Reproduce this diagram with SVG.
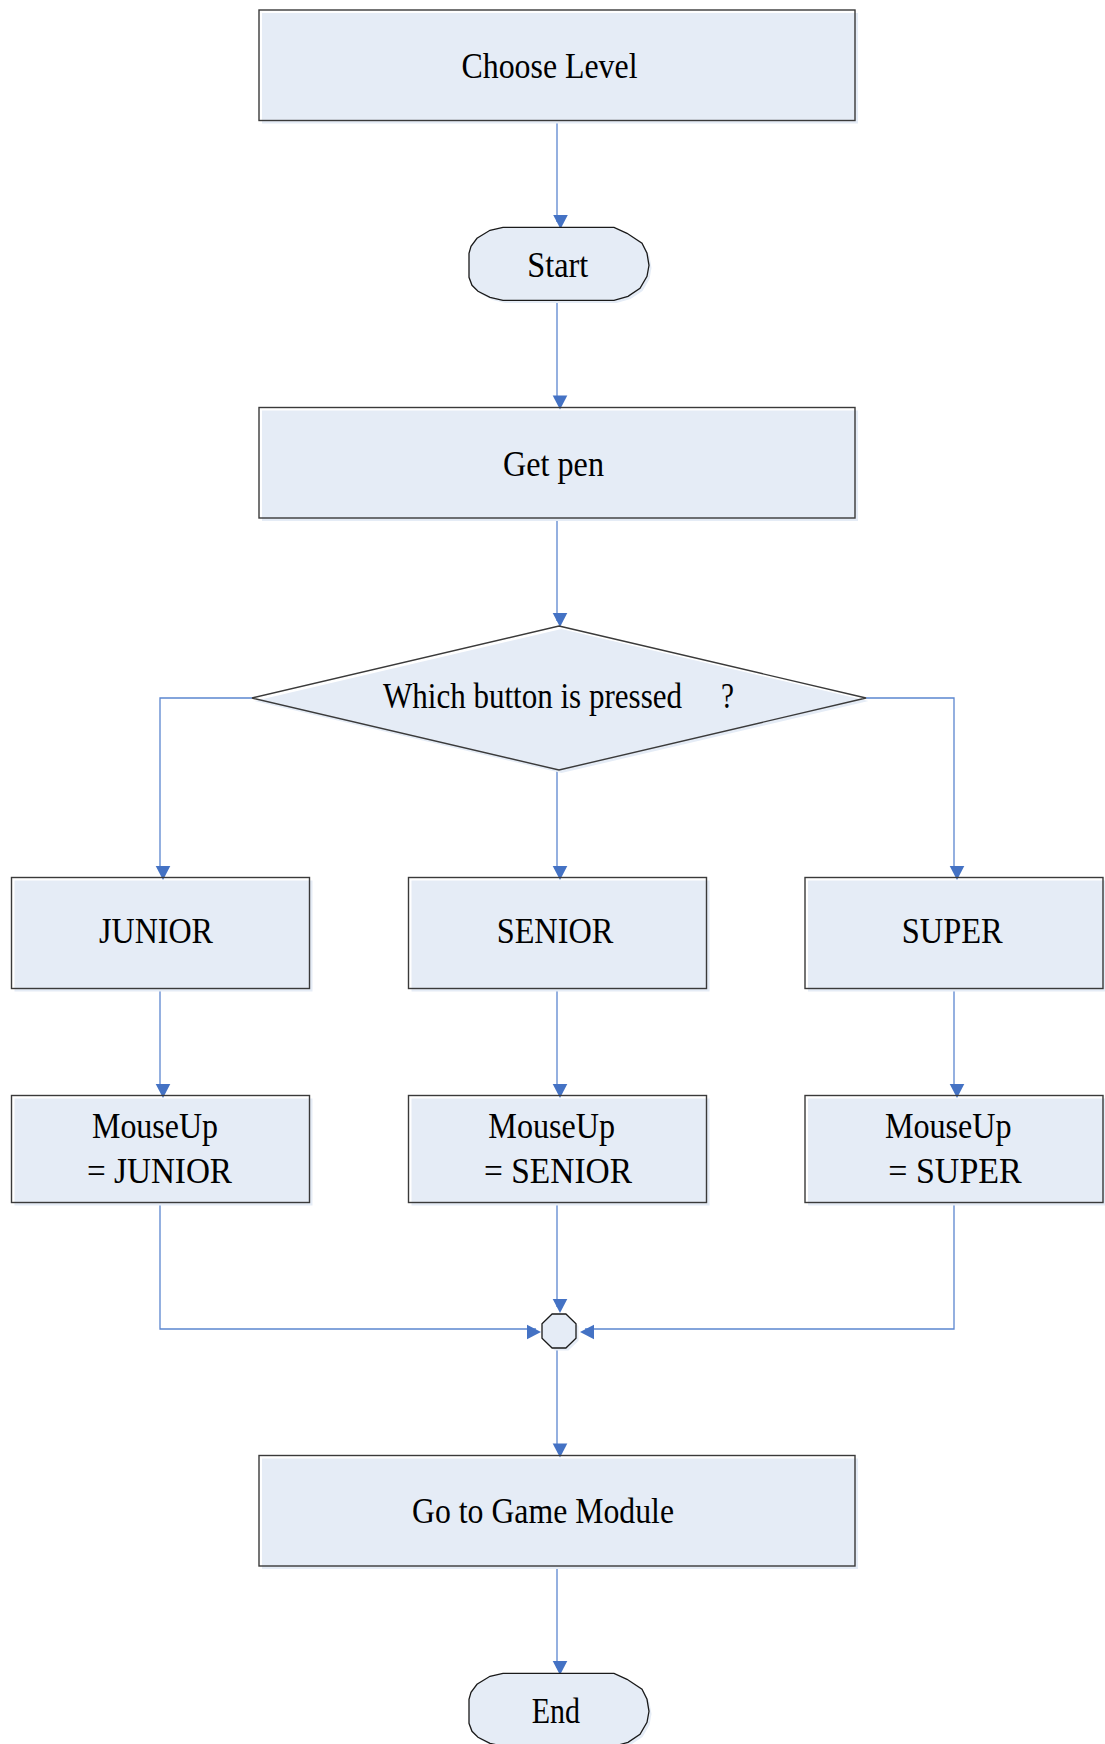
<svg xmlns="http://www.w3.org/2000/svg" xmlns:xlink="http://www.w3.org/1999/xlink" width="1105" height="1744" viewBox="0 0 1105 1744">
  <style>
    .fill { fill: #E5ECF6; stroke: none; }
    .edge { fill: none; stroke: #3A3A3A; stroke-width: 1.4; }
    .term { fill: #E5ECF6; stroke: #1A1A1A; stroke-width: 1.3; }
    .lbl { font-family: "Liberation Serif", "Times New Roman", serif; font-size: 35px; fill: #000; }
    .mid { text-anchor: middle; }
    .wire { fill: none; stroke: #5B86CF; stroke-width: 1.3; }
    .head { fill: #4472C4; }
  </style>
  <defs>
    <!-- arrowhead pointing down, tip at the origin -->
    <path id="ah" d="M0,0 L-7.3,-14 L7.3,-14 Z"/>
    <!-- terminator outline with faceted round ends, top at y=0 -->
    <path id="termShape" d="M503,0 H614 L627,6 L642,16 L647,26 L649,38 L647,49 L640,61 L628,69 L614,73 H503 L490,70 L478,64 L472,58 L469,50 V26 L471,19 L477,11 L490,3 Z"/>
  </defs>

  <rect width="1105" height="1744" fill="#FFFFFF"/>

  <!-- connectors -->
  <g id="connectors">
    <path class="wire" d="M557,121 V222"/>
    <path class="wire" d="M557,300 V402"/>
    <path class="wire" d="M557,518 V621"/>
    <path class="wire" d="M252,698 H160 V872"/>
    <path class="wire" d="M557,770 V872"/>
    <path class="wire" d="M866,698 H954 V872"/>
    <path class="wire" d="M160,989 V1090"/>
    <path class="wire" d="M557,989 V1090"/>
    <path class="wire" d="M954,989 V1090"/>
    <path class="wire" d="M160,1203 V1329 H536"/>
    <path class="wire" d="M557,1203 V1307"/>
    <path class="wire" d="M954,1203 V1329 H585"/>
    <path class="wire" d="M557,1349 V1450"/>
    <path class="wire" d="M557,1566 V1668"/>

    <use href="#ah" xlink:href="#ah" class="head" transform="translate(560.5,229)"/>
    <use href="#ah" xlink:href="#ah" class="head" transform="translate(560,409.5)"/>
    <use href="#ah" xlink:href="#ah" class="head" transform="translate(560,627)"/>
    <use href="#ah" xlink:href="#ah" class="head" transform="translate(163,880)"/>
    <use href="#ah" xlink:href="#ah" class="head" transform="translate(560,880)"/>
    <use href="#ah" xlink:href="#ah" class="head" transform="translate(957,880)"/>
    <use href="#ah" xlink:href="#ah" class="head" transform="translate(163,1098)"/>
    <use href="#ah" xlink:href="#ah" class="head" transform="translate(560,1098)"/>
    <use href="#ah" xlink:href="#ah" class="head" transform="translate(957,1098)"/>
    <use href="#ah" xlink:href="#ah" class="head" transform="translate(560,1313)"/>
    <use href="#ah" xlink:href="#ah" class="head" transform="translate(541,1332) rotate(-90)"/>
    <use href="#ah" xlink:href="#ah" class="head" transform="translate(580,1332) rotate(90)"/>
    <use href="#ah" xlink:href="#ah" class="head" transform="translate(560,1457.5)"/>
    <use href="#ah" xlink:href="#ah" class="head" transform="translate(560,1675)"/>
  </g>

  <!-- Choose Level -->
  <g id="choose-level">
    <rect class="fill" x="262" y="13" width="596" height="110.5"/>
    <rect class="edge" x="259" y="10" width="596" height="110.5"/>
    <text class="lbl mid" x="549.5" y="78.3" textLength="176" lengthAdjust="spacingAndGlyphs">Choose Level</text>
  </g>

  <!-- Start -->
  <g id="start">
    <use href="#termShape" xlink:href="#termShape" class="fill" transform="translate(2.5,230)"/>
    <use href="#termShape" xlink:href="#termShape" class="term" transform="translate(0,227.3)"/>
    <text class="lbl mid" x="557.8" y="276.7" textLength="61" lengthAdjust="spacingAndGlyphs">Start</text>
  </g>

  <!-- Get pen -->
  <g id="get-pen">
    <rect class="fill" x="262" y="410.5" width="596" height="110.5"/>
    <rect class="edge" x="259" y="407.5" width="596" height="110.5"/>
    <text class="lbl mid" x="553.5" y="475.6" textLength="101" lengthAdjust="spacingAndGlyphs">Get pen</text>
  </g>

  <!-- Which button is pressed ? -->
  <g id="decision">
    <polygon class="fill" points="561.5,629 868.5,701 561.5,773 254.5,701"/>
    <polygon class="edge" points="559,626 866,698 559,770 252,698"/>
    <text class="lbl" x="383" y="708.3" textLength="299" lengthAdjust="spacingAndGlyphs">Which button is pressed</text>
    <text class="lbl" x="721" y="708.3" textLength="13" lengthAdjust="spacingAndGlyphs">?</text>
  </g>

  <!-- JUNIOR -->
  <g id="junior">
    <rect class="fill" x="14.5" y="880.5" width="298" height="111"/>
    <rect class="edge" x="11.5" y="877.5" width="298" height="111"/>
    <text class="lbl mid" x="156" y="942.7" textLength="114" lengthAdjust="spacingAndGlyphs">JUNIOR</text>
  </g>

  <!-- SENIOR -->
  <g id="senior">
    <rect class="fill" x="411.5" y="880.5" width="298" height="111"/>
    <rect class="edge" x="408.5" y="877.5" width="298" height="111"/>
    <text class="lbl mid" x="555" y="942.7" textLength="116.6" lengthAdjust="spacingAndGlyphs">SENIOR</text>
  </g>

  <!-- SUPER -->
  <g id="super">
    <rect class="fill" x="808" y="880.5" width="298" height="111"/>
    <rect class="edge" x="805" y="877.5" width="298" height="111"/>
    <text class="lbl mid" x="952.2" y="942.7" textLength="101" lengthAdjust="spacingAndGlyphs">SUPER</text>
  </g>

  <!-- MouseUp = JUNIOR -->
  <g id="mouseup-junior">
    <rect class="fill" x="14.5" y="1098.5" width="298" height="107"/>
    <rect class="edge" x="11.5" y="1095.5" width="298" height="107"/>
    <text class="lbl mid" x="155" y="1138" textLength="126" lengthAdjust="spacingAndGlyphs">MouseUp</text>
    <text class="lbl mid" x="159.5" y="1183" textLength="145" lengthAdjust="spacingAndGlyphs">= JUNIOR</text>
  </g>

  <!-- MouseUp = SENIOR -->
  <g id="mouseup-senior">
    <rect class="fill" x="411.5" y="1098.5" width="298" height="107"/>
    <rect class="edge" x="408.5" y="1095.5" width="298" height="107"/>
    <text class="lbl mid" x="551.7" y="1138.3" textLength="126.7" lengthAdjust="spacingAndGlyphs">MouseUp</text>
    <text class="lbl mid" x="558" y="1183.3" textLength="148" lengthAdjust="spacingAndGlyphs">= SENIOR</text>
  </g>

  <!-- MouseUp = SUPER -->
  <g id="mouseup-super">
    <rect class="fill" x="808" y="1098.5" width="298" height="107"/>
    <rect class="edge" x="805" y="1095.5" width="298" height="107"/>
    <text class="lbl mid" x="948.3" y="1138.3" textLength="126.7" lengthAdjust="spacingAndGlyphs">MouseUp</text>
    <text class="lbl mid" x="955" y="1183.3" textLength="133.4" lengthAdjust="spacingAndGlyphs">= SUPER</text>
  </g>

  <!-- merge point -->
  <g id="merge">
    <polygon class="fill" points="578.5,1326.2 578.5,1340.8 568.4,1350.5 554.6,1350.5 544.5,1340.8 544.5,1326.2 554.6,1316.5 568.4,1316.5"/>
    <polygon class="term" points="576,1323.7 576,1338.3 565.9,1348 552.1,1348 542,1338.3 542,1323.7 552.1,1314 565.9,1314"/>
  </g>

  <!-- Go to Game Module -->
  <g id="game-module">
    <rect class="fill" x="262" y="1458.5" width="596" height="110.5"/>
    <rect class="edge" x="259" y="1455.5" width="596" height="110.5"/>
    <text class="lbl mid" x="543" y="1523.3" textLength="262" lengthAdjust="spacingAndGlyphs">Go to Game Module</text>
  </g>

  <!-- End -->
  <g id="end">
    <use href="#termShape" xlink:href="#termShape" class="fill" transform="translate(2.5,1676)"/>
    <use href="#termShape" xlink:href="#termShape" class="term" transform="translate(0,1673.3)"/>
    <text class="lbl mid" x="555.8" y="1722.7" textLength="48.3" lengthAdjust="spacingAndGlyphs">End</text>
  </g>
</svg>
